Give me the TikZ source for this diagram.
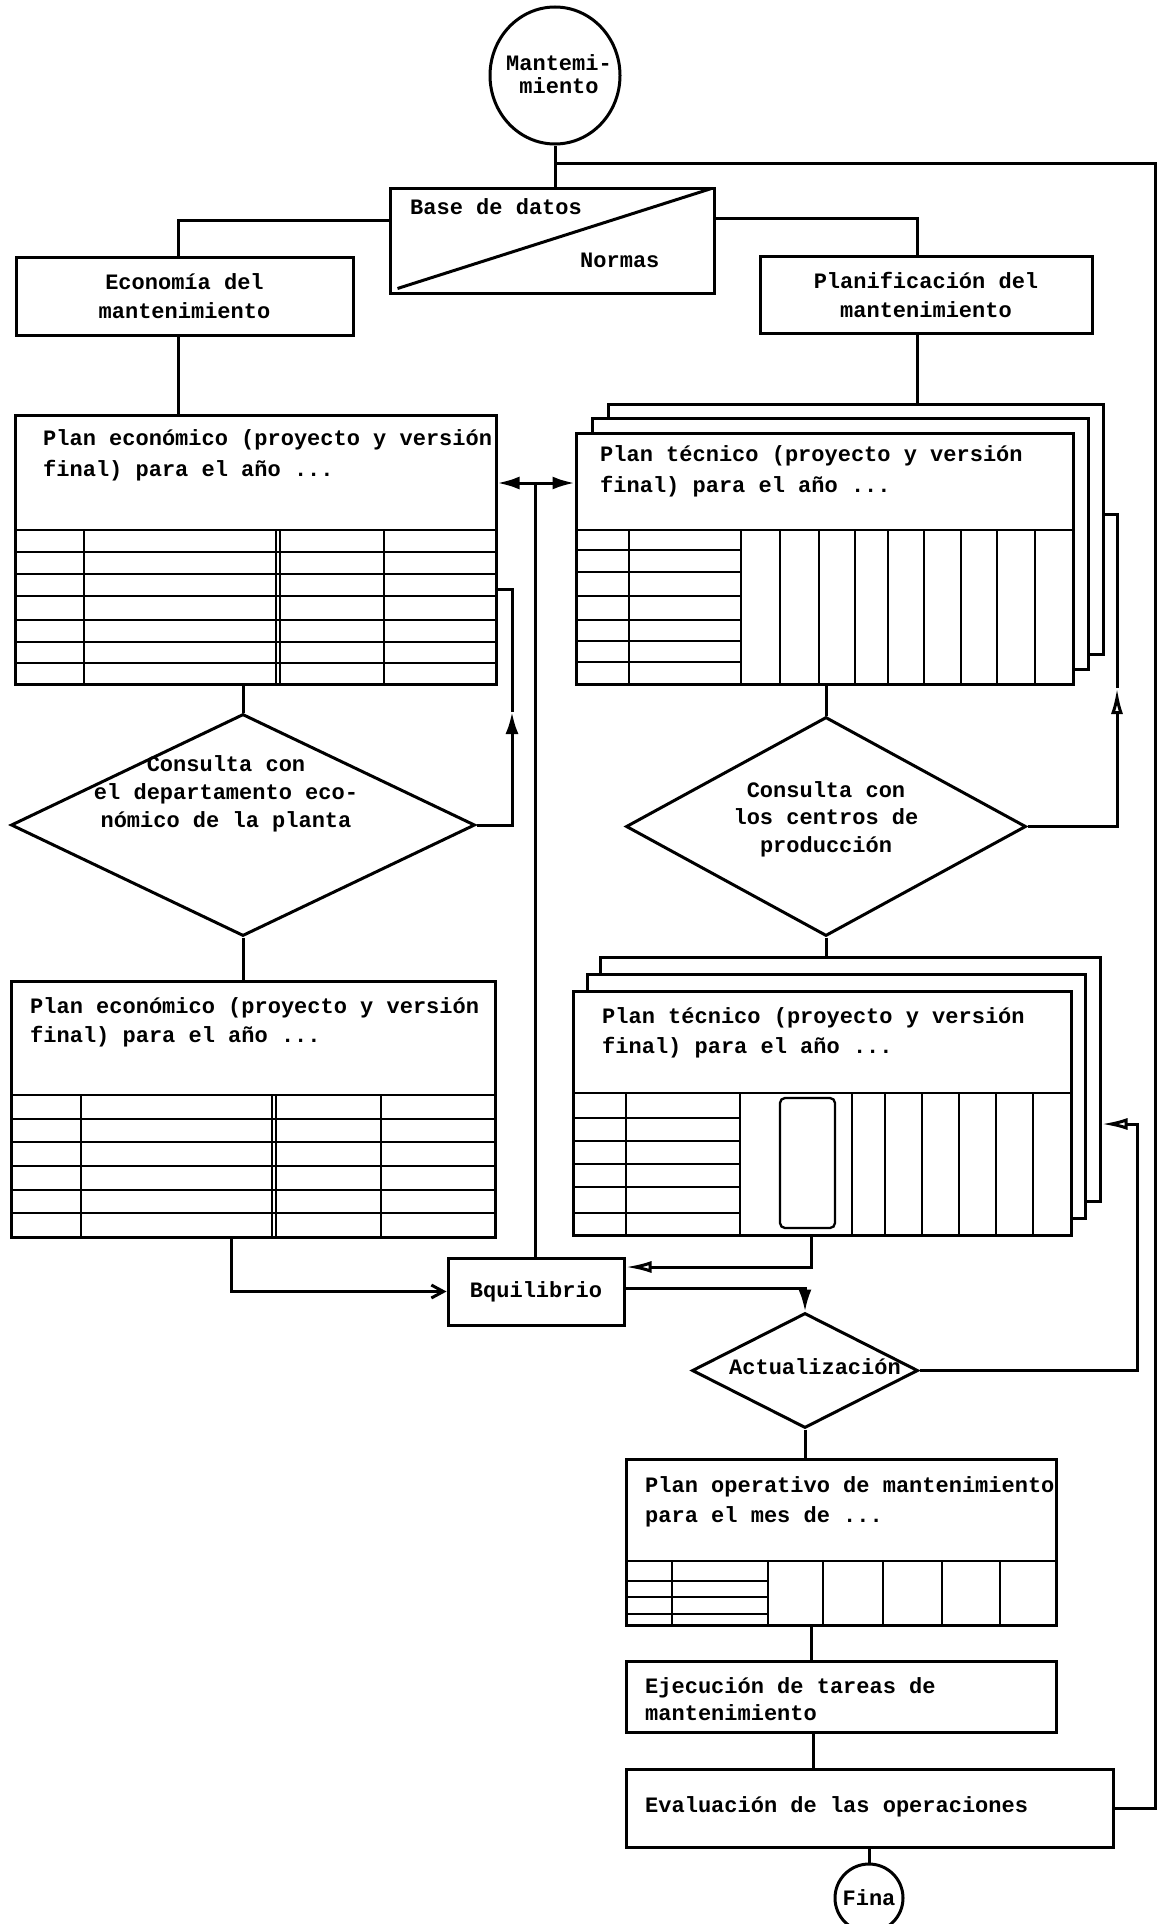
\documentclass[tikz,border=0pt]{standalone}
\usepackage{fontspec}
\setmainfont{Liberation Mono}
\usetikzlibrary{arrows.meta,shapes.geometric}
\newcommand{\fst}{\rule{0pt}{18pt}}
\begin{document}
\begin{tikzpicture}[x=1pt,y=-1pt,
  bx/.style={draw,rectangle,inner sep=0pt,line width=3pt,fill=white,
    font=\fontsize{22pt}{29pt}\selectfont\bfseries,align=center},
  dm/.style={draw,diamond,inner sep=0pt,line width=3pt,fill=white},
  tx/.style={font=\fontsize{22pt}{29pt}\selectfont\bfseries,inner sep=0pt,align=left,anchor=north west},
  tc/.style={font=\fontsize{22pt}{28pt}\selectfont\bfseries,inner sep=0pt,align=center},
  conn/.style={line width=3pt},
  grid/.style={line width=2.3pt},
  fa/.style={-{Latex[length=22pt,width=13pt]}},
  oa/.style={-{Latex[open,length=26pt,width=12pt]}},
  ba/.style={-{Straight Barb[length=12pt,width=13pt]}}]
\fill[white] (0,0) rectangle (1160,1924);
\useasboundingbox (0,0) rectangle (1160,1924);

% ---------- top
\node[draw,ellipse,line width=3pt,minimum width=130pt,minimum height=137pt,inner sep=0pt] (mant) at (555,75.5) {};
\node[tc,font=\fontsize{22pt}{23pt}\selectfont\bfseries] (mantt) at (559,74) {Mantemi-\\miento};

\node[bx,minimum width=324pt,minimum height=105pt] (base) at (552,240.5) {};
\draw[conn] ([shift={(9,-6)}]base.south west) -- ([shift={(-4,2)}]base.north east);
\node[tx,anchor=west] (bdt) at (410,207) {Base de datos};
\node[tx,anchor=west] (nrm) at (580,260) {Normas};

\node[bx,minimum width=337pt,minimum height=78pt] (eco) at (184.5,296) {Economía del\\mantenimiento};
\node[bx,minimum width=332pt,minimum height=77pt] (plan) at (926,294.5) {Planificación del\\mantenimiento};

% ---------- plan economico 1
\node[bx,minimum width=481pt,minimum height=269pt] (pe1) at (255.5,549.5) {};
\node[tx,font=\fontsize{22pt}{31pt}\selectfont\bfseries] (pe1t) at (43,427.6) {\fst Plan económico (proyecto y versión\\final) para el año ...};
\foreach \y in {530,552,574,596,620,642,663} \draw[grid] (15,\y) -- (496,\y);
\foreach \x in {84,276,280,384} \draw[grid] (\x,530) -- (\x,684);

% ---------- diamond 1
\node[dm,minimum width=464pt,minimum height=222pt] (d1) at (243,825) {};
\node[tc] (d1t) at (226,794) {Consulta con\\el departamento eco-\\nómico de la planta};

% ---------- plan economico 2
\node[bx,minimum width=484pt,minimum height=256pt] (pe2) at (253,1109) {};
\node[tx] (pe2t) at (30,995.6) {\fst Plan económico (proyecto y versión\\final) para el año ...};
\foreach \y in {1095,1118.7,1142.3,1166,1189.7,1213.3} \draw[grid] (11,\y) -- (495,\y);
\foreach \x in {81,272,276,381} \draw[grid] (\x,1095) -- (\x,1237);

% ---------- plan tecnico 1 (stack)
\node[bx,minimum width=495pt,minimum height=250pt] (pt1c) at (855.5,529) {};
\node[bx,minimum width=496pt,minimum height=251pt] (pt1b) at (840,543.5) {};
\node[bx,minimum width=497pt,minimum height=251pt] (pt1) at (824.5,558.5) {};
\node[tx,font=\fontsize{22pt}{31pt}\selectfont\bfseries] (pt1t) at (600,443.6) {\fst Plan técnico (proyecto y versión\\final) para el año ...};
\draw[grid] (576,530) -- (1073,530);
\foreach \y in {550,572,596,620,641,662} \draw[grid] (576,\y) -- (741,\y);
\foreach \x in {629,741,780,819,855,888,924,961,997,1035} \draw[grid] (\x,530) -- (\x,684);

% ---------- diamond 2
\node[dm,minimum width=400pt,minimum height=219pt] (d2) at (826,826.5) {};
\node[tc,font=\fontsize{22pt}{27.5pt}\selectfont\bfseries] (d2t) at (826,819) {Consulta con\\los centros de\\producción};

% ---------- plan tecnico 2 (stack)
\node[bx,minimum width=500pt,minimum height=244pt] (pt2c) at (850,1079) {};
\node[bx,minimum width=498pt,minimum height=244pt] (pt2b) at (836,1096) {};
\node[bx,minimum width=498pt,minimum height=244pt] (pt2) at (822,1113) {};
\node[tx,font=\fontsize{22pt}{30pt}\selectfont\bfseries] (pt2t) at (602,1005.6) {\fst Plan técnico (proyecto y versión\\final) para el año ...};
\draw[grid] (573,1093) -- (1071,1093);
\foreach \y in {1118,1141,1164,1187,1213} \draw[grid] (573,\y) -- (740,\y);
\foreach \x in {626,740,852,885,922,959,996,1033} \draw[grid] (\x,1093) -- (\x,1235);
\draw[grid,rounded corners=5pt] (780,1098) rectangle (835,1228);

% ---------- equilibrio, actualizacion
\node[bx,minimum width=176pt,minimum height=67pt] (equi) at (536,1291.5) {Bquilibrio};
\node[dm,minimum width=226pt,minimum height=115pt] (act) at (805,1370.5) {};
\node[tc] (actt) at (815,1367) {Actualización};

% ---------- plan operativo
\node[bx,minimum width=430pt,minimum height=166pt] (pop) at (841,1542) {};
\node[tx,font=\fontsize{22pt}{30pt}\selectfont\bfseries] (popt) at (645,1474.6) {\fst Plan operativo de mantenimiento\\para el mes de ...};
\draw[grid] (626,1561) -- (1056,1561);
\foreach \y in {1581,1597,1614} \draw[grid] (626,\y) -- (768,\y);
\foreach \x in {672,768,823,883,942,1000} \draw[grid] (\x,1561) -- (\x,1625);

\node[bx,minimum width=430pt,minimum height=71pt] (eje) at (841,1696.5) {};
\node[tx,font=\fontsize{22pt}{27pt}\selectfont\bfseries] (ejet) at (645,1675.6) {\fst Ejecución de tareas de\\mantenimiento};
\node[bx,minimum width=487pt,minimum height=78pt] (eva) at (869.5,1808) {};
\node[tx] (evat) at (645,1794.6) {\fst Evaluación de las operaciones};
\node[draw,circle,line width=3pt,minimum size=68pt,inner sep=0pt,fill=white,
  font=\fontsize{22pt}{26pt}\selectfont\bfseries] (fin) at (869,1898) {Fina};

% ---------- connectors
\coordinate (tj) at (555,163);
\coordinate (tr) at (1155,163);
\draw[conn] (mant.south) -- (mant.south |- base.north);
\draw[conn] (eva.east) -| (tr) -- (tj);
\draw[conn] (base.west |- 0,220) -| (eco.north -| 178,0);
\draw[conn] (base.east |- 0,218) -| (plan.north -| 917,0);
\draw[conn] (eco.south -| 178,0) -- (pe1.north -| 178,0);
\draw[conn] (pe1.south -| d1.north) -- (d1.north);
\coordinate (a1) at (512,712);
\draw[conn,fa] (d1.east) -| (a1);
\draw[conn] (a1) |- (pe1.east |- 0,589);
\draw[conn] (d1.south) -- (d1.south |- pe2.north);
\draw[conn,ba] (pe2.south -| 231,0) |- (equi.west);
\coordinate (cj) at (535,483);
\draw[conn] (equi.north -| cj) -- (cj);
\draw[conn,fa] (cj) -- (pe1.east |- cj);
\draw[conn,fa] (cj) -- (pt1.west |- cj);
\draw[conn] (plan.south -| 917,0) -- (pt1c.north -| 917,0);
\draw[conn] (pt1.south -| d2.north) -- (d2.north);
\coordinate (a2) at (1117,688);
\draw[conn,oa] (d2.east) -| (a2);
\draw[conn] (a2) |- (pt1c.east |- 0,514);
\draw[conn] (d2.south) -- (d2.south |- pt2c.north);
\coordinate (a3) at (1137,1124);
\draw[conn,oa] (act.east) -| (a3) -- (pt2c.east |- a3);
\draw[conn,oa] (pt2.south -| 811,0) |- (equi.east |- 0,1267);
\draw[conn,fa] (equi.east |- 0,1288) -| (act.north);
\draw[conn] (act.south) -- (act.south |- pop.north);
\draw[conn] (pop.south -| 811,0) -- (eje.north -| 811,0);
\draw[conn] (eje.south -| 813,0) -- (eva.north -| 813,0);
\draw[conn] (eva.south -| fin.north) -- (fin.north);
\end{tikzpicture}
\end{document}
